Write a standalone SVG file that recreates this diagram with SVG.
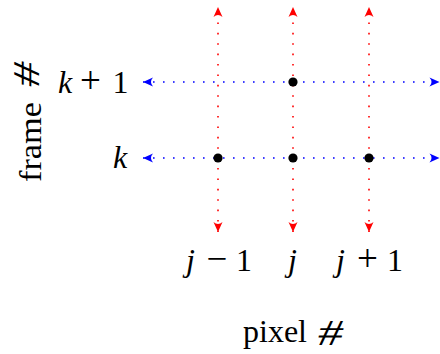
<svg xmlns="http://www.w3.org/2000/svg" width="440" height="354" viewBox="0 0 440 354">
<defs>
<style>
.v{stroke:#ff0000;stroke-width:1.6;stroke-dasharray:1.6 8.8;stroke-linecap:butt;fill:none}
.h{stroke:#0000ff;stroke-width:1.6;stroke-dasharray:1.6 8.4;fill:none}
text{font-family:'Liberation Serif','Times New Roman',Times,serif;font-size:32px;fill:#000}
.i{font-style:italic}
.op{font-size:37px}
.pt{fill:#000}
</style>
<marker id="ar" viewBox="-11 -5 12 10" markerWidth="12" markerHeight="10" refX="0" refY="0" orient="auto-start-reverse" markerUnits="userSpaceOnUse">
<path d="M0,0 L-10,-4.5 Q-6,0 -10,4.5 Z" fill="#ff0000"/>
</marker>
<marker id="ab" viewBox="-11 -5 12 10" markerWidth="12" markerHeight="10" refX="0" refY="0" orient="auto-start-reverse" markerUnits="userSpaceOnUse">
<path d="M0,0 L-10,-4.5 Q-6,0 -10,4.5 Z" fill="#0000ff"/>
</marker>
</defs>
<g id="connectors">
<line class="v" x1="218" y1="232" x2="218" y2="7" marker-start="url(#ar)" marker-end="url(#ar)"/>
<line class="v" x1="293" y1="232" x2="293" y2="7" marker-start="url(#ar)" marker-end="url(#ar)"/>
<line class="v" x1="369" y1="232" x2="369" y2="7" marker-start="url(#ar)" marker-end="url(#ar)"/>
<line class="h" x1="143" y1="82" x2="439.5" y2="82" marker-start="url(#ab)" marker-end="url(#ab)"/>
<line class="h" x1="143" y1="158" x2="439.5" y2="158" marker-start="url(#ab)" marker-end="url(#ab)"/>
</g>
<g id="points">
<circle class="pt" cx="293" cy="82" r="4.6"/>
<circle class="pt" cx="218" cy="158" r="4.6"/>
<circle class="pt" cx="293" cy="158" r="4.6"/>
<circle class="pt" cx="369" cy="158" r="4.6"/>
</g>
<g id="row-labels">
<text y="93"><tspan class="i" x="58">k</tspan><tspan class="op" x="80">+</tspan><tspan x="112.5">1</tspan></text>
<text class="i" x="113" y="167.5">k</text>
</g>
<g id="col-labels">
<text y="271"><tspan class="i" x="186">j</tspan><tspan class="op" x="206.5">−</tspan><tspan x="236">1</tspan></text>
<text class="i" x="288" y="271">j</text>
<text y="271"><tspan class="i" x="336">j</tspan><tspan class="op" x="357">+</tspan><tspan x="387">1</tspan></text>
</g>
<g id="axis-labels">
<g id="frame-label">
<text x="0" y="0" transform="translate(41,182) rotate(-90)" font-size="33" textLength="80" lengthAdjust="spacingAndGlyphs">frame</text>
<text x="0" y="0" transform="translate(39,89) rotate(-90) skewX(-12) scale(1.56,1.18)">#</text>
</g>
<g id="pixel-label">
<text x="243" y="342">pixel</text>
<text x="0" y="0" transform="translate(316,345) skewX(-12) scale(1.56,1.15)">#</text>
</g>
</g>
</svg>
